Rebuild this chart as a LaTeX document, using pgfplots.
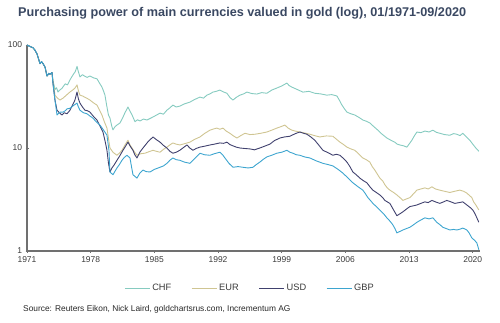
\documentclass[border=0pt]{standalone}
\usepackage{pgfplots}
\pgfplotsset{compat=1.18}
\usepackage{fontspec}
\setmainfont{Liberation Sans}
\definecolor{chfcol}{HTML}{86CBC0}
\definecolor{eurcol}{HTML}{CFC592}
\definecolor{usdcol}{HTML}{40416E}
\definecolor{gbpcol}{HTML}{3DA5CF}
\definecolor{titlecol}{HTML}{3A4862}
\definecolor{axcol}{HTML}{707070}
\definecolor{labcol}{HTML}{3A3A3A}
\begin{document}
\begin{tikzpicture}[x=1bp,y=1bp]
\path[use as bounding box] (0,0) rectangle (500,322);
\node[anchor=west, inner sep=0, font=\fontsize{12.7}{14}\selectfont\bfseries, text=titlecol] at (18,309) {Purchasing power of main currencies valued in gold (log), 01/1971-09/2020};
\begin{axis}[
  at={(27bp,71bp)}, anchor=south west,
  scale only axis, width=453bp, height=206bp,
  ymode=log, ymin=1, ymax=100,
  xmin=1971, xmax=2020.8,
  axis x line*=bottom, axis y line*=left,
  axis line style={axcol, line width=1.3bp},
  xtick={1971,1978,1985,1992,1999,2006,2013,2020},
  xticklabels={1971,1978,1985,1992,1999,2006,2013,2020},
  ytick={1,10,100}, yticklabels={1,10,100},
  minor ytick={}, log basis y=10,
  yminorticks=false,
  tick style={axcol, line width=0.8bp},
  major tick length=3bp,
  tick align=center,
  tick label style={font=\fontsize{8.5}{10}\selectfont, text=labcol},
  /pgf/number format/assume math mode=true,
  xticklabel style={yshift=-1bp},
  clip=false,
  legend columns=4,
  legend style={at={(0.4923,-0.1796)}, anchor=center, draw=none, fill=none,
    font=\fontsize{9.3}{10}\selectfont, text=labcol,
    /tikz/every even column/.append style={column sep=18bp},
    nodes={inner xsep=2bp}},
  legend image code/.code={\draw[#1, line width=0.9bp] (0bp,0bp) -- (25bp,0bp);},
  every axis plot/.append style={line width=0.9bp, line join=round},
]
% CHF
\addplot[chfcol] coordinates {
(1971.00,100)(1971.30,97)(1971.66,94)(1971.88,89)(1972.10,82)(1972.43,66)(1972.60,69)(1972.76,66)(1972.98,61)(1973.20,50)(1973.40,53)(1973.53,52)(1973.75,54)(1973.86,45)
(1974.08,37)(1974.25,38.5)(1974.40,35)(1974.60,36.5)(1974.85,38)(1975.20,42)(1975.45,41)(1975.73,46)(1976.10,52)(1976.30,55)(1976.50,62)(1976.60,57)(1976.82,49)(1977.10,51.5)(1977.30,50)(1977.60,48.5)(1977.92,50)(1978.30,48)(1978.69,47)(1978.95,43)(1979.24,39)(1979.40,36)(1979.57,32.6)(1979.79,25)(1979.95,21)(1980.12,19.5)(1980.34,16)(1980.45,15)(1980.70,16.2)(1980.89,16.7)(1981.22,17.5)(1981.50,19.5)(1981.77,22)(1982.10,25)(1982.30,23)(1982.54,21)(1982.87,18)(1983.15,18.8)(1983.42,18.3)(1983.80,19.1)(1984.19,18.7)(1984.50,19.3)(1984.85,20)(1985.20,20.8)(1985.62,21.8)(1986.00,21.3)(1986.38,23.3)(1986.70,24.5)(1987.04,26.1)(1987.40,25)(1987.80,25.5)(1988.30,26.8)(1988.91,27.9)(1989.40,29.5)(1990.01,31.2)(1990.40,30.5)(1990.78,32.6)(1991.10,33.5)(1991.44,34.9)(1991.80,35.5)(1992.20,36.5)(1992.60,35)(1992.98,34)(1993.30,31)(1993.64,29.2)(1994.00,31)(1994.41,32.6)(1994.80,33.5)(1995.18,34.9)(1995.70,33.8)(1996.27,33.4)(1996.80,34.5)(1997.37,34)(1997.90,36.5)(1998.46,38.2)(1999.00,40)(1999.57,42.7)(1999.80,40.5)(2000.12,39)(2000.70,37)(2001.33,34.9)(2002.00,35.5)(2002.64,34)(2003.30,33.5)(2003.96,32.6)(2004.50,33)(2005.07,32)(2005.35,29)(2005.62,26.1)(2005.90,24)(2006.17,22.3)(2006.60,21.5)(2007.04,20.9)(2007.50,19.8)(2007.92,18.7)(2008.30,18.2)(2008.69,17.5)(2009.10,16.2)(2009.57,14.9)(2010.00,13.7)(2010.56,12.5)(2011.00,11.9)(2011.43,11.4)(2011.70,10.9)(2011.99,10.7)(2012.40,10.5)(2012.76,10.2)(2013.00,10.9)(2013.31,11.9)(2013.60,13.2)(2013.86,14.3)(2014.30,14.1)(2014.74,14.6)(2015.20,14.3)(2015.62,14.9)(2016.00,14.2)(2016.38,13.9)(2016.90,13.5)(2017.48,13.3)(2017.90,13.8)(2018.25,13.6)(2018.60,13.2)(2018.91,13.9)(2019.30,12.8)(2019.68,11.9)(2020.00,10.9)(2020.34,10)(2020.67,9.3)
};
\addlegendentry{CHF}
% EUR
\addplot[eurcol] coordinates {
(1971.00,100)(1971.30,97)(1971.66,94)(1971.88,89)(1972.10,82)(1972.43,66)(1972.60,69)(1972.76,66)(1972.98,61)(1973.20,50)(1973.40,53)(1973.53,52)(1973.75,54)(1973.86,44)
(1974.08,32.6)(1974.35,30.5)(1974.63,29.2)(1974.96,30.5)(1975.40,33)(1975.73,35)(1976.10,37)(1976.30,38.5)(1976.50,41)(1976.65,36)(1976.82,32.6)(1977.10,32)(1977.40,31)(1977.70,30)(1977.92,29.2)(1978.30,27.5)(1978.69,26.1)(1978.95,23.5)(1979.24,20.9)(1979.50,18)(1979.79,15.6)(1979.95,12.5)(1980.12,10)(1980.45,9.1)(1980.89,8.5)(1981.20,9)(1981.44,9.5)(1981.80,10.8)(1982.10,11.9)(1982.30,10.8)(1982.54,10)(1982.80,9.2)(1983.09,8.5)(1983.50,8.8)(1983.96,8.9)(1984.40,9.2)(1984.85,9.5)(1985.20,9.3)(1985.62,9.1)(1986.00,9.7)(1986.38,10.2)(1986.70,10.7)(1987.04,11.2)(1987.40,10.9)(1987.80,10.7)(1988.30,11)(1988.91,11.4)(1989.40,12.1)(1990.01,12.8)(1990.50,13.8)(1991.11,14.9)(1991.50,15.3)(1991.87,15.6)(1992.20,15.2)(1992.54,15.6)(1992.90,14.6)(1993.30,13.9)(1993.70,13.1)(1994.08,12.5)(1994.50,13.2)(1994.96,13.9)(1995.50,13.5)(1996.05,13.6)(1996.70,13.9)(1997.37,14.3)(1997.90,14.9)(1998.46,15.6)(1998.90,16.1)(1999.35,16.7)(1999.70,15.6)(2000.12,14.9)(2000.50,14.6)(2001.00,14.3)(2001.50,14)(2002.10,13.6)(2002.60,13.2)(2003.19,12.8)(2003.90,13.1)(2004.63,13)(2005.00,12.2)(2005.40,11.4)(2005.80,10.8)(2006.17,10.2)(2006.60,9.8)(2007.04,9.5)(2007.50,8.7)(2007.92,8)(2008.30,7.7)(2008.69,7.3)(2008.95,6.6)(2009.24,6.1)(2009.50,5.6)(2009.79,5.1)(2010.10,4.8)(2010.34,4.4)(2010.60,4.1)(2010.89,3.9)(2011.30,3.7)(2011.66,3.5)(2012.00,3.3)(2012.32,3.1)(2012.70,3.2)(2013.09,3.3)(2013.50,3.6)(2013.86,3.9)(2014.30,4)(2014.74,4.1)(2015.10,4)(2015.51,4.2)(2015.90,4)(2016.38,3.9)(2016.90,3.8)(2017.48,3.7)(2018.00,3.8)(2018.58,3.9)(2019.00,3.8)(2019.35,3.65)(2019.90,3.3)(2020.10,3.0)(2020.34,2.8)(2020.67,2.5)
};
\addlegendentry{EUR}
% USD
\addplot[usdcol] coordinates {
(1971.00,100)(1971.30,97)(1971.66,94)(1971.88,89)(1972.10,82)(1972.43,66)(1972.60,69)(1972.76,66)(1972.98,61)(1973.20,50)(1973.40,53)(1973.53,52)(1973.75,54)(1973.86,42)
(1974.08,29)(1974.30,23.3)(1974.55,22)(1974.85,20.9)(1975.10,22)(1975.40,21.5)(1975.73,23.3)(1976.00,26)(1976.27,29.2)(1976.50,35)(1976.65,30)(1976.82,27.3)(1977.10,25)(1977.37,23.3)(1977.65,23)(1977.92,22.3)(1978.30,20.3)(1978.69,18.7)(1979.00,16.5)(1979.35,14.3)(1979.60,11.5)(1979.79,9.5)(1979.95,7.2)(1980.12,5.85)(1980.34,6.4)(1980.60,6.9)(1980.89,7.6)(1981.20,8.4)(1981.55,9.5)(1981.80,10.3)(1982.10,11.4)(1982.35,10.4)(1982.65,9.5)(1982.85,8.6)(1983.09,8)(1983.40,9.1)(1983.75,10)(1984.30,11.5)(1984.85,12.8)(1985.20,12.1)(1985.62,11.4)(1986.00,10.6)(1986.38,10)(1986.70,9.3)(1987.04,8.9)(1987.40,9.1)(1987.80,9.5)(1988.20,10.1)(1988.58,10.7)(1988.90,10)(1989.24,9.5)(1989.60,9.9)(1990.01,10.2)(1990.50,10.4)(1991.11,10.7)(1991.60,10.9)(1992.20,11.2)(1992.60,11.1)(1992.98,11.4)(1993.30,10.8)(1993.64,10.5)(1994.00,10.2)(1994.41,10)(1994.90,9.9)(1995.51,9.8)(1996.00,9.6)(1996.60,10)(1997.10,10.4)(1997.70,10.9)(1998.20,11.8)(1998.80,12.5)(1999.30,12.8)(1999.90,13)(2000.50,13.8)(2001.00,14.3)(2001.40,13.9)(2001.77,13.6)(2002.20,12.8)(2002.64,11.9)(2003.10,10.6)(2003.53,9.5)(2004.10,9)(2004.63,8.5)(2005.00,8.7)(2005.40,8.5)(2005.80,7.9)(2006.17,7.3)(2006.50,6.6)(2006.82,5.85)(2007.20,5.5)(2007.59,5.1)(2008.00,4.8)(2008.36,4.6)(2008.70,4.2)(2009.02,3.9)(2009.40,3.7)(2009.79,3.5)(2010.10,3.3)(2010.34,3.1)(2010.60,3)(2010.89,2.9)(2011.30,2.5)(2011.66,2.2)(2012.00,2.3)(2012.32,2.4)(2012.70,2.55)(2013.09,2.7)(2013.50,2.75)(2013.86,2.8)(2014.30,2.9)(2014.74,3.0)(2015.10,2.95)(2015.51,3.1)(2015.90,3.0)(2016.38,2.9)(2016.80,3.0)(2017.15,3.1)(2017.60,3.0)(2018.03,2.9)(2018.50,2.95)(2018.91,3.0)(2019.35,2.8)(2019.70,2.65)(2020.01,2.5)(2020.25,2.3)(2020.45,2.1)(2020.67,1.9)
};
\addlegendentry{USD}
% GBP
\addplot[gbpcol] coordinates {
(1971.00,100)(1971.30,97)(1971.66,94)(1971.88,89)(1972.10,82)(1972.43,66)(1972.60,69)(1972.76,66)(1972.98,61)(1973.20,50)(1973.40,53)(1973.53,52)(1973.75,54)(1973.86,42)
(1974.08,29)(1974.30,20.9)(1974.63,22.3)(1974.96,22.3)(1975.20,23)(1975.40,24)(1975.73,24.3)(1976.10,25.8)(1976.50,27.3)(1976.65,25)(1976.82,23.3)(1977.20,22)(1977.59,21.5)(1977.90,20.5)(1978.25,19.5)(1978.60,18)(1979.02,16.7)(1979.40,15)(1979.79,13.3)(1980.01,9.5)(1980.12,5.85)(1980.45,5.5)(1980.70,6)(1980.89,6.4)(1981.20,7)(1981.44,7.6)(1981.70,8.1)(1981.99,8.5)(1982.32,8)(1982.50,6.5)(1982.65,5.5)(1983.09,5.1)(1983.40,5.7)(1983.75,6.1)(1984.10,5.9)(1984.52,5.85)(1985.00,6.2)(1985.62,6.5)(1986.00,6.7)(1986.38,7.1)(1986.70,7.6)(1987.04,8)(1987.40,7.7)(1987.80,7.6)(1988.30,7.3)(1988.91,7.1)(1989.50,8)(1990.01,8.9)(1990.50,8.6)(1991.11,8.5)(1991.60,8.8)(1992.20,9.1)(1992.50,8.6)(1992.76,8)(1993.20,7.1)(1993.64,6.5)(1994.20,6.6)(1994.74,6.5)(1995.30,6.4)(1995.84,6.5)(1996.20,6.9)(1996.60,7.3)(1997.00,7.8)(1997.37,8.2)(1997.90,8.5)(1998.46,8.9)(1999.00,9.1)(1999.57,9.5)(1999.90,9.1)(2000.23,8.9)(2000.60,8.6)(2001.00,8.5)(2001.50,8.2)(2002.10,8)(2002.80,7.5)(2003.53,7.1)(2004.10,6.9)(2004.63,6.7)(2005.20,6.2)(2005.73,5.7)(2006.30,5.1)(2006.82,4.6)(2007.40,4.2)(2007.92,3.9)(2008.20,3.6)(2008.47,3.3)(2008.75,3.1)(2009.02,2.9)(2009.40,2.7)(2009.79,2.5)(2010.20,2.3)(2010.56,2.1)(2010.90,1.95)(2011.21,1.8)(2011.45,1.65)(2011.66,1.5)(2012.00,1.55)(2012.32,1.6)(2012.70,1.65)(2013.09,1.7)(2013.50,1.8)(2013.86,1.9)(2014.30,2)(2014.74,2.1)(2015.20,2.05)(2015.62,2.1)(2016.05,1.9)(2016.40,1.8)(2016.71,1.7)(2017.10,1.65)(2017.48,1.6)(2017.90,1.62)(2018.25,1.6)(2018.60,1.63)(2018.91,1.67)(2019.35,1.6)(2019.60,1.5)(2019.90,1.34)(2020.20,1.27)(2020.45,1.2)(2020.67,1.03)
};
\addlegendentry{GBP}
\end{axis}
\node[anchor=west, inner sep=0, font=\fontsize{8.4}{10}\selectfont, text=black!85] at (23,13) {Source: Reuters Eikon, Nick Laird, goldchartsrus.com, Incrementum AG};
\end{tikzpicture}
\end{document}
